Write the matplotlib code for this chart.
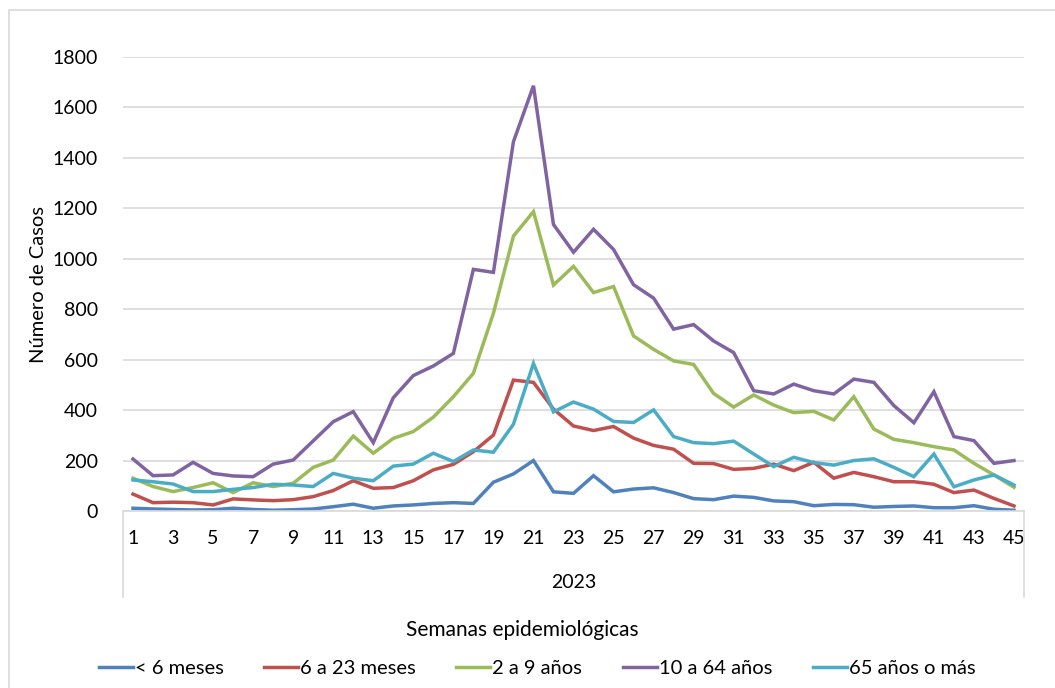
import matplotlib
matplotlib.use("Agg")
import matplotlib.pyplot as plt
from matplotlib.patches import Rectangle
import numpy as np

plt.rcParams['font.family'] = ['Lato', 'DejaVu Sans']

weeks = np.arange(1, 46)
year_label = '2023'

menos_6m = [11, 8, 6, 4, 5, 11, 6, 3, 5, 8, 17, 27, 11, 20, 24, 30, 33, 30, 114, 147,
            200, 76, 70, 140, 76, 87, 92, 73, 49, 45, 59, 54, 40, 37, 21, 26, 25, 15,
            18, 20, 13, 13, 21, 7, 3]
m6_23 = [67, 33, 35, 33, 24, 48, 44, 41, 45, 57, 81, 120, 90, 93, 120, 163, 185, 235,
         301, 519, 510, 404, 337, 319, 335, 289, 260, 245, 189, 188, 165, 169, 186,
         160, 193, 130, 153, 136, 116, 116, 106, 73, 83, 50, 20]
a2_9 = [130, 97, 77, 93, 112, 73, 112, 97, 110, 173, 202, 297, 229, 288, 315, 372, 453,
        546, 784, 1090, 1187, 896, 970, 866, 890, 694, 641, 595, 581, 466, 412, 460,
        420, 390, 395, 361, 453, 325, 284, 271, 255, 242, 189, 143, 94]
a10_64 = [206, 140, 143, 193, 149, 139, 136, 186, 202, 278, 354, 394, 271, 449, 537,
          575, 625, 958, 946, 1464, 1686, 1136, 1026, 1117, 1037, 897, 844, 721, 739,
          674, 628, 477, 464, 503, 477, 464, 523, 510, 418, 350, 473, 295, 279, 189, 200]
a65_mas = [123, 116, 107, 77, 77, 86, 93, 106, 103, 97, 149, 130, 120, 178, 186, 229,
           196, 242, 233, 344, 585, 393, 432, 404, 355, 351, 401, 295, 271, 267, 277,
           226, 176, 213, 192, 182, 200, 207, 173, 136, 226, 96, 123, 143, 103]

series = [
    ('< 6 meses', menos_6m, '#4F81BD'),
    ('6 a 23 meses', m6_23, '#C0504D'),
    ('2 a 9 años', a2_9, '#9BBB59'),
    ('10 a 64 años', a10_64, '#8064A2'),
    ('65 años o más', a65_mas, '#4BACC6'),
]

W, H = 1055, 688
fig = plt.figure(figsize=(W / 100, H / 100), dpi=100)
ax = fig.add_axes([123 / W, 1 - 511 / H, (1024 - 123) / W, (511 - 57) / H])

# chart area border
fig.patches.append(Rectangle((9 / W, -0.02), 1.02, 0.02 + 1 - 10 / H, transform=fig.transFigure,
                             fill=False, edgecolor='#D9D9D9', linewidth=1.2))

for name, vals, col in series:
    ax.plot(weeks, vals, color=col, linewidth=2.5, label=name, solid_joinstyle='miter')

ax.set_xlim(0.5, 45.5)
ax.set_ylim(0, 1800)
ax.set_yticks(np.arange(0, 1801, 200))
ax.set_xticks(weeks[::2])
ax.set_xticklabels([str(w) for w in weeks[::2]])
ax.yaxis.grid(True, color='#D9D9D9', linewidth=1.2)
ax.set_axisbelow(True)
for s in ['top', 'right', 'left']:
    ax.spines[s].set_visible(False)
ax.spines['bottom'].set_color('#D9D9D9')
ax.spines['bottom'].set_linewidth(1.2)
ax.tick_params(axis='both', length=0, labelsize=14, colors='black')
ax.tick_params(axis='x', pad=14)
ax.tick_params(axis='y', pad=18)

# multi-level category separators
for xa in [0, 1]:
    ax.plot([xa, xa], [0, -86 / 454], transform=ax.transAxes, color='#D9D9D9',
            linewidth=1.2, clip_on=False)
ax.text(0.5, -72 / 454, year_label, transform=ax.transAxes, ha='center', va='center', fontsize=14)

fig.text(39 / W, 1 - 284 / H, 'Número de Casos', rotation=90, ha='center', va='center', fontsize=14.5)
fig.text(522 / W, 1 - 630 / H, 'Semanas epidemiológicas', ha='center', va='center', fontsize=15)

fig.legend(loc='center', bbox_to_anchor=(537 / W, 1 - 668 / H), ncol=5, frameon=False,
           fontsize=14.5, handlelength=1.7, columnspacing=2.0, handletextpad=0.1)

fig.savefig('out.png', dpi=100)
